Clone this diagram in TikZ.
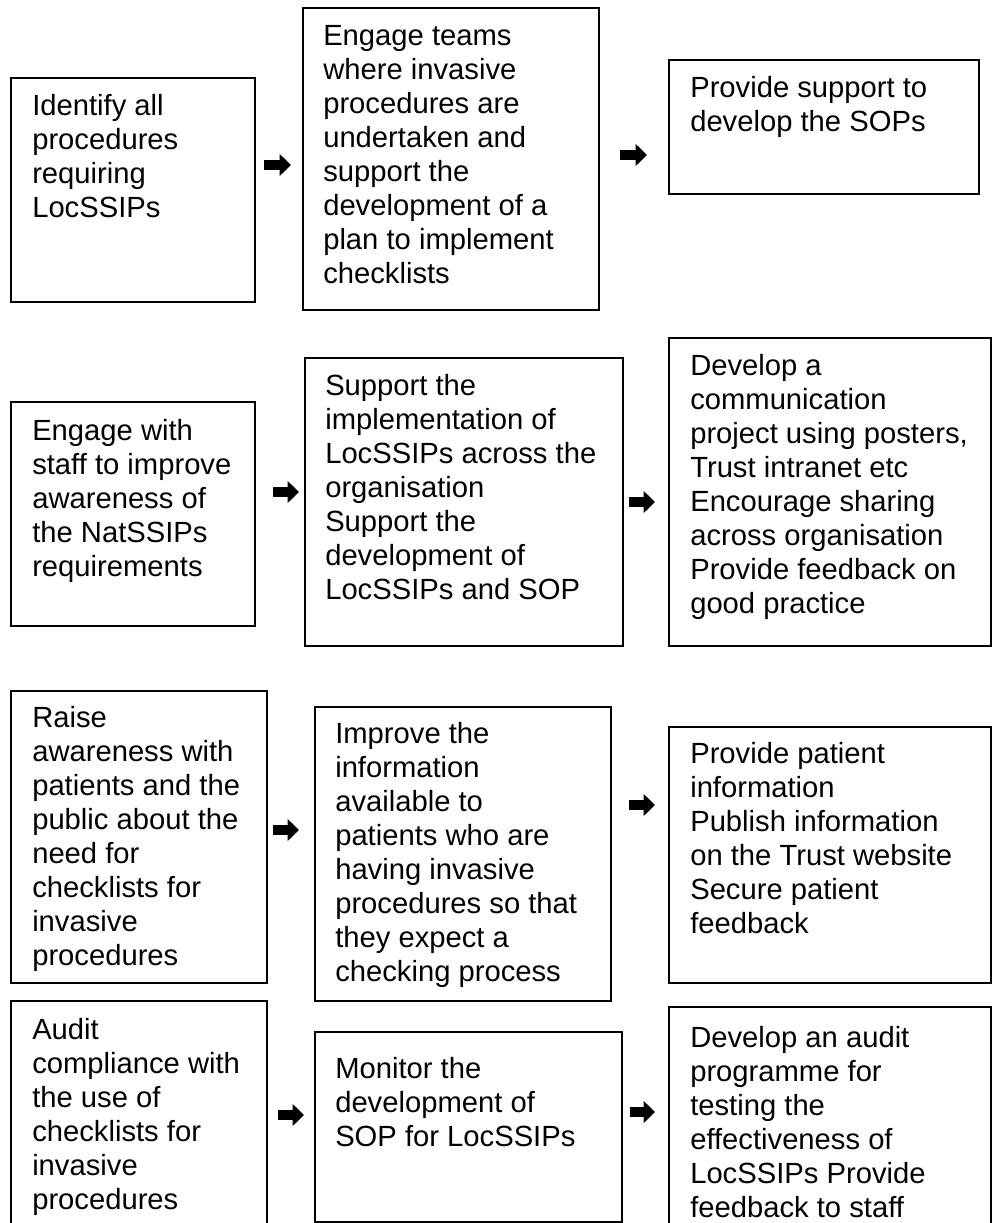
\documentclass[tikz,border=0pt]{standalone}
\usepackage{fontspec}
\setmainfont{Liberation Sans}
\usetikzlibrary{arrows.meta, fit}
\tikzset{frame/.style={draw, line width=0.9pt, inner sep=0pt, fit={#1}},
    txt/.style={anchor=north west, align=left, inner sep=0pt, font=\fontsize{21.9pt}{25.5pt}\selectfont},
    flow/.style={line width=8pt, -{Triangle[length=8.5pt, width=16pt]}}}

\begin{document}
\begin{tikzpicture}[x=0.75pt, y=-0.75pt]
                 \clip(0,0) rectangle (996,1223);
                 \node[frame={(11,78) (255,302)}](idf){};
                 \node[frame={(303,8) (599,310)}](teams){};
                 \node[frame={(669,60) (979,194)}](sops){};
                 \node[frame={(11,402) (255,626)}](staff){};
                 \node[frame={(305,358) (623,646)}](impl){};
                 \node[frame={(669,338) (991,646)}](comms){};
                 \node[frame={(11,691) (267,983)}](raise){};
                 \node[frame={(315,707) (611,1001)}](info){};
                 \node[frame={(669,727) (991,983)}](patinfo){};
                 \node[frame={(11,1001) (267,1240)}](audit){};
                 \node[frame={(315,1032) (622,1222)}](monitor){};
                 \node[frame={(669,1007) (991,1240)}](prog){};
                 \node[txt](idfT)at(32,94){Identify all\\procedures\\requiring\\LocSSIPs};
                 \node[txt](teamsT)at(323,25){Engage teams\\where invasive\\procedures are\\undertaken and\\support the\\development of a\\plan to implement\\checklists};
                 \node[txt](sopsT)at(690,76){Provide support to\\develop the SOPs};
                 \node[txt](staffT)at(32,419){Engage with\\staff to improve\\awareness of\\the NatSSIPs\\requirements};
                 \node[txt](implT)at(325,374){Support the\\implementation of\\LocSSIPs across the\\organisation\\Support the\\development of\\LocSSIPs and SOP};
                 \node[txt](commsT)at(690,354){Develop a\\communication\\project using posters,\\Trust intranet etc\\Encourage sharing\\across organisation\\Provide feedback on\\good practice};
                 \node[txt](raiseT)at(32,706){Raise\\awareness with\\patients and the\\public about the\\need for\\checklists for\\invasive\\procedures};
                 \node[txt](infoT)at(335,722){Improve the\\information\\available to\\patients who are\\having invasive\\procedures so that\\they expect a\\checking process};
                 \node[txt](patinfoT)at(690,742){Provide patient\\information\\Publish information\\on the Trust website\\Secure patient\\feedback};
                 \node[txt](auditT)at(32,1018){Audit\\compliance with\\the use of\\checklists for\\invasive\\procedures};
                 \node[txt](monitorT)at(335,1057){Monitor the\\development of\\SOP for LocSSIPs};
                 \node[txt](progT)at(690,1026){Develop an audit\\programme for\\testing the\\effectiveness of\\LocSSIPs Provide\\feedback to staff};
                 \coordinate(r1a)at(264,165); \coordinate(r1b)at(291,165);
                 \coordinate(r1c)at(620,155); \coordinate(r1d)at(647,155);
                 \coordinate(r2a)at(273,492); \coordinate(r2b)at(299,492);
                 \coordinate(r2c)at(629,502); \coordinate(r2d)at(655,502);
                 \coordinate(r3a)at(273,830); \coordinate(r3b)at(299,830);
                 \coordinate(r3c)at(629,805); \coordinate(r3d)at(655,805);
                 \coordinate(r4a)at(278,1115); \coordinate(r4b)at(304,1115);
                 \coordinate(r4c)at(630,1112); \coordinate(r4d)at(655,1112);
                 \draw[flow](r1a)--(r1b);
                 \draw[flow](r1c)--(r1d);
                 \draw[flow](r2a)--(r2b);
                 \draw[flow](r2c)--(r2d);
                 \draw[flow](r3a)--(r3b);
                 \draw[flow](r3c)--(r3d);
                 \draw[flow](r4a)--(r4b);
                 \draw[flow](r4c)--(r4d);
             \end{tikzpicture}
\end{document}
